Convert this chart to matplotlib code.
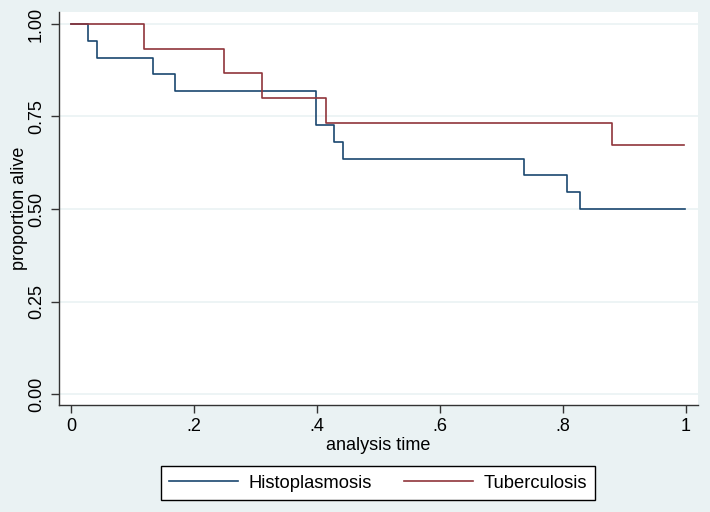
import numpy as np
import matplotlib
matplotlib.use("Agg")
import matplotlib.pyplot as plt

plt.rcParams['font.family'] = ['Liberation Sans', 'DejaVu Sans']

# Kaplan-Meier step points (time, survival)
histo_t = [0.0, 0.027, 0.042, 0.133, 0.169, 0.398, 0.427, 0.443, 0.736, 0.807, 0.827, 0.998]
histo_s = [1.0, 0.955, 0.909, 0.864, 0.818, 0.727, 0.682, 0.636, 0.591, 0.545, 0.500, 0.500]

tb_t = [0.0, 0.119, 0.248, 0.311, 0.415, 0.879, 0.996]
tb_s = [1.0, 0.933, 0.867, 0.800, 0.733, 0.672, 0.672]

xticks = [0, 0.2, 0.4, 0.6, 0.8, 1.0]
xticklabels = ["0", ".2", ".4", ".6", ".8", "1"]
yticks = [0.0, 0.25, 0.5, 0.75, 1.0]
yticklabels = ["0.00", "0.25", "0.50", "0.75", "1.00"]

bg = "#EAF2F3"
blue = "#1A476F"
red = "#90353B"

fig = plt.figure(figsize=(7.1, 5.12), dpi=100, facecolor=bg)
ax = fig.add_axes([59/710, 1-405/512, (698-59)/710, (405-12)/512])
ax.set_facecolor("white")

ax.step(histo_t, histo_s, where="post", color=blue, lw=1.2, label="Histoplasmosis")
ax.step(tb_t, tb_s, where="post", color=red, lw=1.2, label="Tuberculosis")

ax.set_xlim(-0.0195, 1.0195)
ax.set_ylim(-0.0297, 1.0324)
ax.set_xticks(xticks)
ax.set_xticklabels(xticklabels)
ax.set_yticks(yticks)
ax.set_yticklabels(yticklabels, rotation=90, va="center")
ax.grid(axis="y", color=bg, lw=1.2)
ax.set_axisbelow(True)

for s in ["top", "right"]:
    ax.spines[s].set_visible(False)
for s in ["left", "bottom"]:
    ax.spines[s].set_color("#333333")
    ax.spines[s].set_linewidth(1.0)
ax.tick_params(axis="both", direction="out", length=6, width=1, color="#333333",
               labelsize=13, labelcolor="black")
ax.tick_params(axis="y", pad=4)

ax.set_xlabel("analysis time", fontsize=13, labelpad=1)
ax.set_ylabel("proportion alive", fontsize=13, labelpad=0)

leg = fig.legend(loc="center", bbox_to_anchor=(378/710, 1-483/512), ncol=2,
                 fontsize=13.2, frameon=True, fancybox=False, edgecolor="black",
                 facecolor="white", framealpha=1, handlelength=3.75,
                 columnspacing=1.75, handletextpad=0.6, borderpad=0.45,
                 borderaxespad=0)
leg.get_frame().set_linewidth(1.0)

fig.savefig("out.png", dpi=100, facecolor=bg)
